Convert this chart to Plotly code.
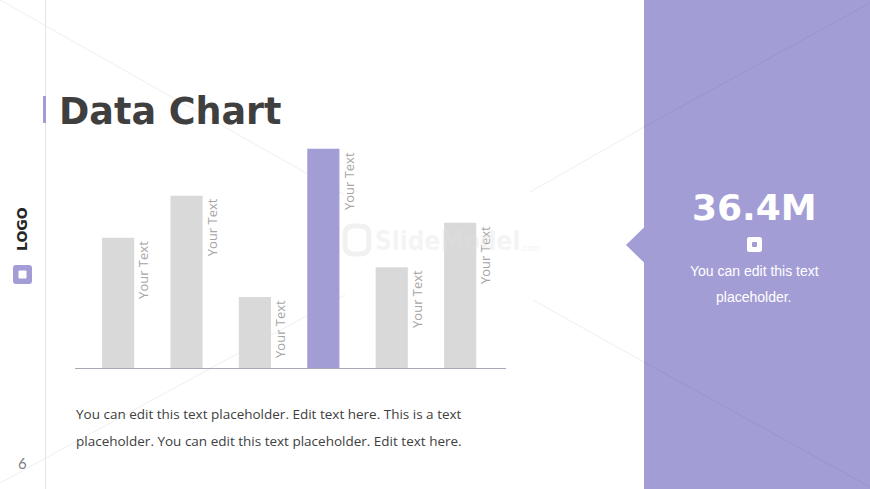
import plotly.graph_objects as go

# ---------------- data ----------------
categories = ["Item 1", "Item 2", "Item 3", "Item 4", "Item 5", "Item 6"]
values = [2.97, 3.93, 1.62, 5.0, 2.3, 3.31]
bar_labels = ["Your Text", "Your Text", "Your Text", "Your Text", "Your Text", "Your Text"]
highlight_index = 3
title_text = "Data Chart"
kpi_value = "36.4M"
kpi_lines = ["You can edit this text", "placeholder."]
body_lines = [
    "You can edit this text placeholder. Edit text here. This is a text",
    "placeholder. You can edit this text placeholder. Edit text here.",
]
page_number = "6"
logo_text = "LOGO"

# ---------------- style ----------------
W, H = 870, 489
PURPLE = "#A39DD6"
GRAY_BAR = "#D9D9D9"
DARK = "#3F3F3F"


def px(x):
    return x / W


def py(y):
    return 1 - y / H


def rrect_path(x0, y0, x1, y1, r):
    pts = [
        ("M", [(x0 + r, y0)]),
        ("L", [(x1 - r, y0)]),
        ("Q", [(x1, y0), (x1, y0 + r)]),
        ("L", [(x1, y1 - r)]),
        ("Q", [(x1, y1), (x1 - r, y1)]),
        ("L", [(x0 + r, y1)]),
        ("Q", [(x0, y1), (x0, y1 - r)]),
        ("L", [(x0, y0 + r)]),
        ("Q", [(x0, y0), (x0 + r, y0)]),
    ]
    s = ""
    for cmd, ps in pts:
        s += cmd + " " + " ".join(f"{px(a):.5f},{py(b):.5f}" for a, b in ps) + " "
    return s + "Z"


colors = [PURPLE if i == highlight_index else GRAY_BAR for i in range(len(values))]

fig = go.Figure()
fig.add_trace(
    go.Bar(
        x=categories,
        y=values,
        marker=dict(color=colors, line=dict(width=0)),
        width=0.47,
        hoverinfo="skip",
    )
)

shapes = []
# decorative diagonal lines (white area)
for (a, b, c, d) in [(0, 0, 345, 195), (0, 483, 345, 295), (530, 192, 644, 127), (533, 300, 644, 362)]:
    shapes.append(dict(type="line", xref="paper", yref="paper", x0=px(a), y0=py(b), x1=px(c), y1=py(d),
                       line=dict(color="#EFEFEF", width=1), layer="below"))
# left vertical separator
shapes.append(dict(type="line", xref="paper", yref="paper", x0=px(45.5), y0=0, x1=px(45.5), y1=1,
                   line=dict(color="#E4E4E4", width=1), layer="below"))
# right panel
shapes.append(dict(type="rect", xref="paper", yref="paper", x0=px(644), y0=0, x1=1, y1=1,
                   fillcolor=PURPLE, line=dict(width=0), layer="below"))
# notch
shapes.append(dict(type="path", xref="paper", yref="paper",
                   path=f"M {px(626)},{py(245)} L {px(644.5)},{py(227)} L {px(644.5)},{py(263)} Z",
                   fillcolor=PURPLE, line=dict(width=0), layer="below"))
# lines in panel
for (a, b, c, d) in [(644, 127, 870, 3), (644, 362, 870, 487)]:
    shapes.append(dict(type="line", xref="paper", yref="paper", x0=px(a), y0=py(b), x1=px(c), y1=py(d),
                       line=dict(color="#9993CE", width=1), layer="below"))
# title accent
shapes.append(dict(type="rect", xref="paper", yref="paper", x0=px(43), y0=py(123), x1=px(46), y1=py(96),
                   fillcolor=PURPLE, line=dict(width=0)))
# logo square
shapes.append(dict(type="path", xref="paper", yref="paper", path=rrect_path(13, 265, 32, 284, 3),
                   fillcolor=PURPLE, line=dict(width=0)))
shapes.append(dict(type="path", xref="paper", yref="paper", path=rrect_path(18.5, 270.5, 26.5, 278.5, 1),
                   fillcolor="white", line=dict(width=0)))
# kpi small square
shapes.append(dict(type="path", xref="paper", yref="paper", path=rrect_path(747, 237, 762, 252, 2.5),
                   fillcolor="white", line=dict(width=0)))
shapes.append(dict(type="path", xref="paper", yref="paper", path=rrect_path(752, 242, 757, 247, 1),
                   fillcolor=PURPLE, line=dict(width=0)))
# watermark logo outline
shapes.append(dict(type="path", xref="paper", yref="paper", path=rrect_path(345, 226, 369, 254, 9),
                   fillcolor="rgba(0,0,0,0)", line=dict(color="#F1F1F1", width=5), layer="below"))

annotations = []
# bar labels
for cat, val, lab in zip(categories, values, bar_labels):
    annotations.append(dict(x=cat, y=val, xref="x", yref="y", text=lab, showarrow=False,
                            textangle=-90, xanchor="left", yanchor="top", xshift=14, yshift=-1,
                            font=dict(family="Open Sans", size=13, color="#A6A6A6")))
# title
annotations.append(dict(x=px(57), y=py(112), xref="paper", yref="paper", text=f"<b>{title_text}</b>",
                        showarrow=False, xanchor="left", yanchor="middle",
                        font=dict(family="DejaVu Sans", size=36.5, color=DARK)))
# logo text
annotations.append(dict(x=px(22), y=py(229), xref="paper", yref="paper", text=f"<b>{logo_text}</b>",
                        showarrow=False, textangle=-90, xanchor="center", yanchor="middle",
                        font=dict(family="DejaVu Sans", size=14, color="#262626")))
# page number
annotations.append(dict(x=px(22), y=py(463), xref="paper", yref="paper", text=page_number,
                        showarrow=False, xanchor="center", yanchor="middle",
                        font=dict(family="Lato", size=15, color="#7F7F7F")))
# kpi
annotations.append(dict(x=px(754), y=py(207), xref="paper", yref="paper", text=f"<b>{kpi_value}</b>",
                        showarrow=False, xanchor="center", yanchor="middle",
                        font=dict(family="DejaVu Sans", size=36, color="white")))
for i, line in enumerate(kpi_lines):
    annotations.append(dict(x=px(754), y=py(271 + 26 * i), xref="paper", yref="paper", text=line,
                            showarrow=False, xanchor="center", yanchor="middle",
                            font=dict(family="Liberation Sans", size=14, color="white")))
# body text
for i, line in enumerate(body_lines):
    annotations.append(dict(x=px(74), y=py(414 + 27 * i), xref="paper", yref="paper", text=line,
                            showarrow=False, xanchor="left", yanchor="middle",
                            font=dict(family="Open Sans", size=13.5, color="#404040")))
# watermark text
annotations.append(dict(x=px(373), y=py(241), xref="paper", yref="paper", text="<b>SlideModel</b>",
                        showarrow=False, xanchor="left", yanchor="middle",
                        font=dict(family="DejaVu Sans Condensed", size=26, color="rgba(225,225,225,0.35)")))
annotations.append(dict(x=px(518), y=py(248), xref="paper", yref="paper", text=".com",
                        showarrow=False, xanchor="left", yanchor="middle",
                        font=dict(family="Liberation Sans", size=9, color="rgba(225,225,225,0.45)")))

y_bottom = (H - 368) / H
y_top = (H - 140) / H

fig.update_layout(
    width=W,
    height=H,
    margin=dict(l=0, r=0, t=0, b=0),
    paper_bgcolor="white",
    plot_bgcolor="rgba(0,0,0,0)",
    showlegend=False,
    shapes=shapes,
    annotations=annotations,
    xaxis=dict(domain=[px(75), px(506)], range=[-0.63, 5.67], showline=True, linecolor="#A9A8BA",
               linewidth=1, showticklabels=False, ticks="", showgrid=False, zeroline=False, fixedrange=True),
    yaxis=dict(domain=[y_bottom, y_top], range=[0, 5.2], showline=False, showticklabels=False,
               ticks="", showgrid=False, zeroline=False, fixedrange=True),
)

fig.write_html(
    "out.html",
    config={"displayModeBar": False},
    post_script="document.body.style.margin='0';document.body.style.overflow='hidden';",
)
